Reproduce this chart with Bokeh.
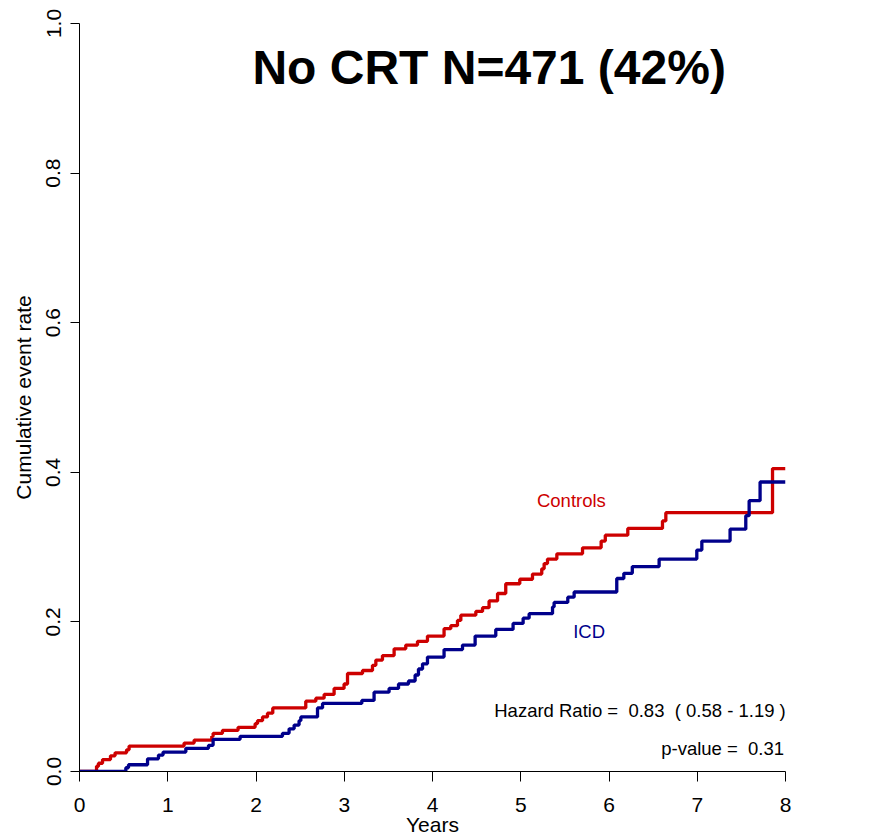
from bokeh.plotting import figure
from bokeh.models import Range1d, FixedTicker, PrintfTickFormatter, Label
from bokeh.embed import file_html
from bokeh.resources import INLINE

# ---- data ----
ctrl_t = [0.0, 0.193, 0.215, 0.261, 0.351, 0.403, 0.533, 0.562, 1.185, 1.299, 1.499, 1.514,
          1.620, 1.797, 1.990, 2.017, 2.074, 2.13, 2.19, 2.564, 2.678, 2.772, 2.885, 2.998,
          3.037, 3.207, 3.320, 3.358, 3.433, 3.565, 3.697, 3.830, 3.943, 4.131, 4.207, 4.283,
          4.321, 4.491, 4.567, 4.641, 4.737, 4.830, 4.989, 5.133, 5.238, 5.265, 5.303, 5.409,
          5.700, 5.911, 5.958, 6.213, 6.606, 6.644, 7.853, 8.0]
ctrl_y = [0.0, 0.007, 0.011, 0.016, 0.021, 0.025, 0.029, 0.034, 0.038, 0.042, 0.047, 0.051,
          0.055, 0.059, 0.064, 0.068, 0.073, 0.078, 0.085, 0.094, 0.098, 0.103, 0.111, 0.117,
          0.131, 0.135, 0.142, 0.149, 0.155, 0.164, 0.169, 0.174, 0.181, 0.191, 0.195, 0.202,
          0.209, 0.214, 0.219, 0.228, 0.238, 0.251, 0.257, 0.264, 0.271, 0.278, 0.284, 0.291,
          0.299, 0.308, 0.316, 0.325, 0.335, 0.346, 0.405, 0.405]

icd_t = [0.0, 0.525, 0.555, 0.771, 0.895, 0.947, 1.205, 1.462, 1.514, 1.820, 2.300, 2.375,
         2.432, 2.488, 2.508, 2.697, 2.754, 3.199, 3.338, 3.508, 3.615, 3.728, 3.803, 3.841,
         3.887, 3.943, 4.131, 4.340, 4.483, 4.717, 4.913, 5.027, 5.095, 5.360, 5.378, 5.533,
         5.605, 6.088, 6.168, 6.264, 6.568, 6.995, 7.052, 7.372, 7.550, 7.588, 7.712, 8.0]
icd_y = [0.0, 0.005, 0.009, 0.017, 0.022, 0.026, 0.031, 0.035, 0.043, 0.047, 0.051, 0.057,
         0.062, 0.068, 0.073, 0.085, 0.091, 0.095, 0.106, 0.111, 0.117, 0.121, 0.129, 0.137,
         0.144, 0.153, 0.163, 0.169, 0.181, 0.190, 0.198, 0.205, 0.211, 0.220, 0.226, 0.233,
         0.240, 0.258, 0.265, 0.274, 0.284, 0.296, 0.308, 0.324, 0.342, 0.362, 0.387, 0.387]

x_ticks = [0, 1, 2, 3, 4, 5, 6, 7, 8]
y_ticks = [0.0, 0.2, 0.4, 0.6, 0.8, 1.0]

NB = "\u00a0"
title_text = "No CRT N=471 (42%)"
ctrl_name = "Controls"
icd_name = "ICD"
hr_text = "Hazard Ratio =" + NB + " 0.83" + NB + " ( 0.58 - 1.19 )"
p_text = "p-value =" + NB + " 0.31"
x_label = "Years"
y_label = "Cumulative event rate"

RED = "#CD0000"
BLUE = "#00008B"
FONT = "Liberation Sans"

p = figure(width=870, height=838, output_backend="svg", toolbar_location=None,
           x_range=Range1d(0, 8), y_range=Range1d(0, 1),
           min_border_left=79, min_border_right=85, min_border_top=23, min_border_bottom=67)
p.outline_line_color = None
p.xgrid.visible = False
p.ygrid.visible = False
p.background_fill_color = "white"
p.border_fill_color = "white"

p.step(ctrl_t, ctrl_y, mode="after", line_color=RED, line_width=3.3)
p.step(icd_t, icd_y, mode="after", line_color=BLUE, line_width=3.3)

for ax in (p.xaxis[0], p.yaxis[0]):
    ax.axis_line_color = "black"
    ax.major_tick_line_color = "black"
    ax.minor_tick_line_color = None
    ax.major_tick_in = 0
    ax.major_label_text_font = FONT
    ax.major_label_text_font_size = "21px"
    ax.major_label_text_color = "black"
    ax.axis_label_text_font = FONT
    ax.axis_label_text_font_size = "21px"
    ax.axis_label_text_font_style = "normal"
    ax.axis_label_text_color = "black"

p.xaxis.ticker = FixedTicker(ticks=x_ticks)
p.xaxis.bounds = (0, 8)
p.xaxis.major_tick_out = 10
p.xaxis.major_label_standoff = 16
p.xaxis.axis_label = x_label
p.xaxis.axis_label_standoff = -2

p.yaxis.ticker = FixedTicker(ticks=y_ticks)
p.yaxis.bounds = (0, 1)
p.yaxis.formatter = PrintfTickFormatter(format="%.1f")
p.yaxis.major_tick_out = 9
p.yaxis.major_label_standoff = 10
p.yaxis.major_label_orientation = "vertical"
p.yaxis.axis_label = y_label
p.yaxis.axis_label_standoff = 9

def lab(x, y, text, size, color="black", align="center", style="normal"):
    p.add_layout(Label(x=x, y=y, text=text, text_font=FONT, text_font_size=size,
                       text_color=color, text_align=align, text_baseline="alphabetic",
                       text_font_style=style))

lab(4.642, 0.9412, title_text, "48px", style="bold")
lab(5.574, 0.3626, ctrl_name, "18.5px", color=RED)
lab(5.775, 0.1874, icd_name, "18.5px", color=BLUE)
lab(8.003, 0.0818, hr_text, "18.5px", align="right")
lab(7.984, 0.0306, p_text, "18.5px", align="right")

open("out.html", "w").write(file_html(p, INLINE))
